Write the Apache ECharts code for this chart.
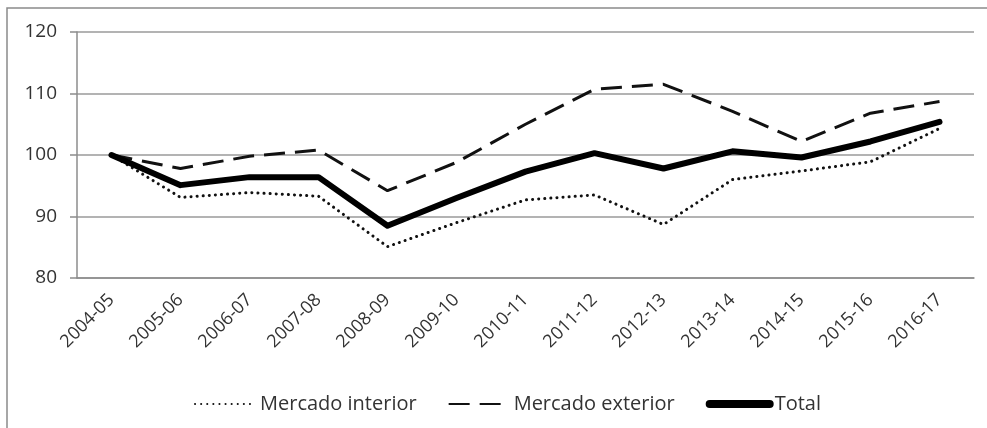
<!DOCTYPE html>
<html>
<head>
<meta charset="utf-8">
<script src="https://cdn.jsdelivr.net/npm/echarts@6/dist/echarts.min.js"></script>
<style>
  html, body { margin: 0; padding: 0; background: #fff; }
  #chart { width: 987px; height: 428px; }
</style>
</head>
<body>
<div id="chart"></div>
<script>
/* data */
var years = ['2004-05','2005-06','2006-07','2007-08','2008-09','2009-10','2010-11','2011-12','2012-13','2013-14','2014-15','2015-16','2016-17'];
var interior = [100, 93.1, 93.9, 93.3, 85.1, 89.0, 92.7, 93.5, 88.7, 96.0, 97.4, 98.9, 104.3];
var exterior = [100, 97.8, 99.8, 100.8, 94.2, 98.8, 105.0, 110.7, 111.5, 107.1, 102.2, 106.8, 108.7];
var total = [100, 95.1, 96.4, 96.4, 88.5, 93.0, 97.3, 100.3, 97.8, 100.6, 99.6, 102.2, 105.4];
var yTicks = [80, 90, 100, 110, 120];

var txt = '#333';
var font = 'Open Sans';

var myChart = echarts.init(document.getElementById('chart'));

var option = {
	animation: false,
	backgroundColor: '#fff',
	textStyle: { fontFamily: font, color: txt },
	graphic: [
		{
			type: 'rect',
			shape: { x: 7, y: 8, width: 1000, height: 500 },
			style: { fill: 'none', stroke: '#8a8a8a', lineWidth: 1.5 },
			silent: true
		}
	],
	grid: { left: 77, right: 13, top: 32, bottom: 150 },
	legend: {
		left: 189,
		top: 389,
		itemWidth: 60,
		itemHeight: 20,
		itemGap: 31,
		itemStyle: { opacity: 0 },
		textStyle: { fontFamily: font, fontSize: 20, color: txt },
		data: [
			{ name: 'Mercado interior' },
			{ name: 'Mercado exterior' },
			{ name: 'Total', lineStyle: { width: 8 } }
		]
	},
	xAxis: {
		type: 'category',
		data: years,
		boundaryGap: true,
		axisLine: { lineStyle: { color: '#8c8c8c', width: 1.5 } },
		axisTick: { length: 6, lineStyle: { color: '#8c8c8c', width: 1.5 } },
		axisLabel: { interval: 0, rotate: 45, margin: 19, fontSize: 18, color: txt, fontFamily: font }
	},
	yAxis: {
		type: 'value',
		min: yTicks[0],
		max: yTicks[yTicks.length - 1],
		interval: 10,
		axisLine: { show: true, lineStyle: { color: '#8c8c8c', width: 1.5 } },
		axisTick: { show: true, length: 7, lineStyle: { color: '#8c8c8c', width: 1.5 } },
		axisLabel: { margin: 20, fontSize: 19, color: txt, fontFamily: font },
		splitLine: { lineStyle: { color: '#9a9a9a', width: 1.5 } }
	},
	series: [
		{
			name: 'Mercado interior',
			type: 'line',
			data: interior,
			symbol: 'none',
			color: '#111',
			lineStyle: { color: '#111', width: 3, type: [0.1, 6], cap: 'round' },
			z: 3
		},
		{
			name: 'Mercado exterior',
			type: 'line',
			data: exterior,
			symbol: 'none',
			color: '#111',
			lineStyle: { color: '#111', width: 3, type: [21, 10] },
			z: 3
		},
		{
			name: 'Total',
			type: 'line',
			data: total,
			symbol: 'none',
			color: '#000',
			lineStyle: { color: '#000', width: 6, cap: 'round', join: 'round' },
			z: 4
		}
	]
};

myChart.setOption(option);
</script>
</body>
</html>
